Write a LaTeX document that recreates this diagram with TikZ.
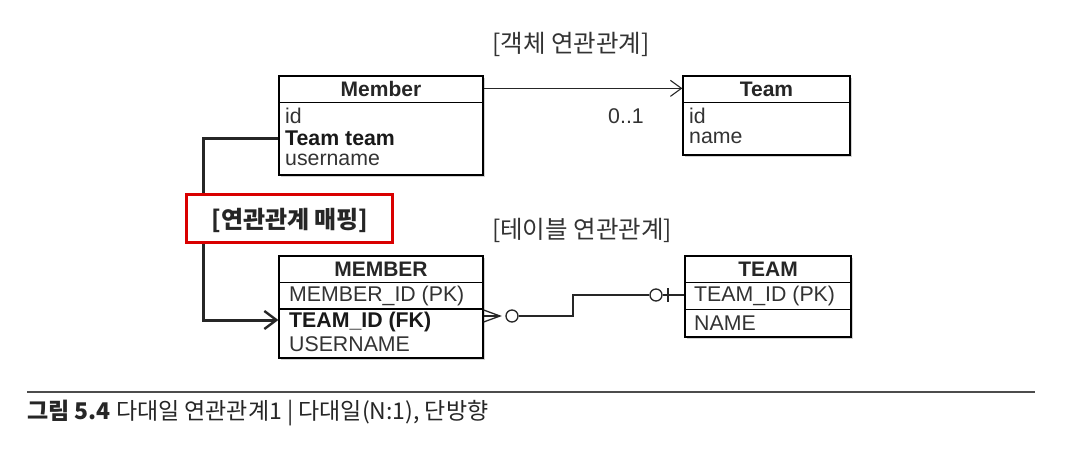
\documentclass[tikz,border=0pt]{standalone}
\usepackage{fontspec}
\setmainfont{Liberation Sans}
\newfontfamily\kr{Noto Sans CJK KR}
\usetikzlibrary{arrows.meta,shadows}
\begin{document}
\begin{tikzpicture}[x=1pt,y=-1pt,
  box/.style={draw=black,line width=1.3pt,fill=white,inner sep=0pt,
    drop shadow={shadow xshift=2pt,shadow yshift=-2pt,opacity=0.35}},
  hdr/.style={font=\fontsize{21}{23}\selectfont\bfseries,text=black!85,inner sep=0pt},
  fld/.style={font=\fontsize{21.3}{23}\selectfont,anchor=west,text=black!80,inner sep=0pt},
  bfld/.style={fld,font=\fontsize{21.3}{23}\selectfont\bfseries,text=black!90},
  krlab/.style={font=\kr\fontsize{24.5}{26}\selectfont,text=black!80,inner sep=0pt},
  sep/.style={line width=1pt},
  conn/.style={line width=1.3pt,draw=black!85}
]
\useasboundingbox (0,0) rectangle (1088,464);
\fill[white] (0,0) rectangle (1088,464);

% titles
\node[krlab] (objtitle) at (571,44) {[객체 연관관계]};
\node[krlab] (tabtitle) at (582,230) {[테이블 연관관계]};

% Member class
\node[box,minimum width=204pt,minimum height=99pt] (member) at (381,125.5) {};
\draw[sep] ([yshift=-27pt]member.north west) -- ([yshift=-27pt]member.north east);
\node[hdr] (memberh) at (381,89) {Member};
\node[fld] (mid) at (285,116) {id};
\node[bfld] (mteam) at (285,138) {Team team};
\node[fld] (muser) at (285,160) {username};

% Team class
\node[box,minimum width=167pt,minimum height=79pt] (team) at (766.5,115.5) {};
\draw[sep] ([yshift=-27pt]team.north west) -- ([yshift=-27pt]team.north east);
\node[hdr] (teamh) at (766.5,89) {Team};
\node[fld] (tid) at (689,116) {id};
\node[fld] (tname) at (689,138) {name};

% association
\draw[conn,line width=1.1pt,-{Straight Barb[length=11pt,width=16pt,line width=1.1pt]}]
  ([yshift=-13pt]member.north east) -- ([yshift=-13pt]team.north west);
\node[fld,anchor=center] (mult) at (626,116) {0..1};

% MEMBER table
\node[box,minimum width=204pt,minimum height=102pt] (MEM) at (381,307) {};
\draw[sep] ([yshift=-27pt]MEM.north west) -- ([yshift=-27pt]MEM.north east);
\draw[line width=1.8pt] ([yshift=-54pt]MEM.north west) -- ([yshift=-54pt]MEM.north east);
\node[hdr] (MEMh) at (381,269) {MEMBER};
\node[fld] (MEMid) at (289,296) {MEMBER\_ID (PK)};
\node[bfld] (MEMfk) at (289,322) {TEAM\_ID (FK)};
\node[fld] (MEMuser) at (289,344) {USERNAME};

% TEAM table
\node[box,minimum width=166pt,minimum height=81pt] (TEAM) at (768,296.5) {};
\draw[sep] ([yshift=-27pt]TEAM.north west) -- ([yshift=-27pt]TEAM.north east);
\draw[sep] ([yshift=-54pt]TEAM.north west) -- ([yshift=-54pt]TEAM.north east);
\node[hdr] (TEAMh) at (768,269) {TEAM};
\node[fld] (TEAMid) at (694,296) {TEAM\_ID (PK)};
\node[fld] (TEAMname) at (694,323) {NAME};

% crow's foot relation
\coordinate (cfA) at (MEM.east |- 0,310);
\coordinate (cfB) at (MEM.east |- 0,322);
\coordinate (cfM) at (MEM.east |- 0,316);
\coordinate (cfP) at (500,316);
\node[draw=black!85,line width=1.3pt,circle,minimum size=12pt,inner sep=0pt] (c1) at (512,316) {};
\node[draw=black!85,line width=1.3pt,circle,minimum size=12pt,inner sep=0pt] (c2) at (656,295) {};
\coordinate (tE) at (TEAM.west |- 0,295);
\draw[conn] (cfA) -- (cfP) -- (cfB);
\draw[conn] (cfM) -- (cfP);
\draw[conn] (c1.east) -- (573,316) -- (573,295) -- (c2.west);
\draw[conn] (c2.east) -- (tE);
\draw[conn] (668,288) -- (668,302);

% mapping
\draw[line width=3pt,draw=black!85,-{Straight Barb[length=12pt,width=18pt,line width=2.4pt]}]
  (member.west |- mteam) -- ++(-75,0) |- (MEM.west |- 0,320);
\node[draw=red!85!black,line width=3pt,minimum width=206pt,minimum height=48pt,fill=white,inner sep=0pt] (redbox) at (289,218) {};
\node[krlab,font=\kr\bfseries\fontsize{24}{26}\selectfont,text=black!85] (maplab) at (290,220) {[연관관계 매핑]};

% caption
\draw[line width=1.2pt,draw=black!70] (27,392) -- (1035,392) coordinate (capend);
\node[anchor=west,inner sep=0pt,text=black!85] (caption) at (27,413)
  {\kr\fontsize{23}{25}\selectfont\textbf{그림 5.4} 다대일 연관관계1 | 다대일(N:1), 단방향};
\end{tikzpicture}
\end{document}
